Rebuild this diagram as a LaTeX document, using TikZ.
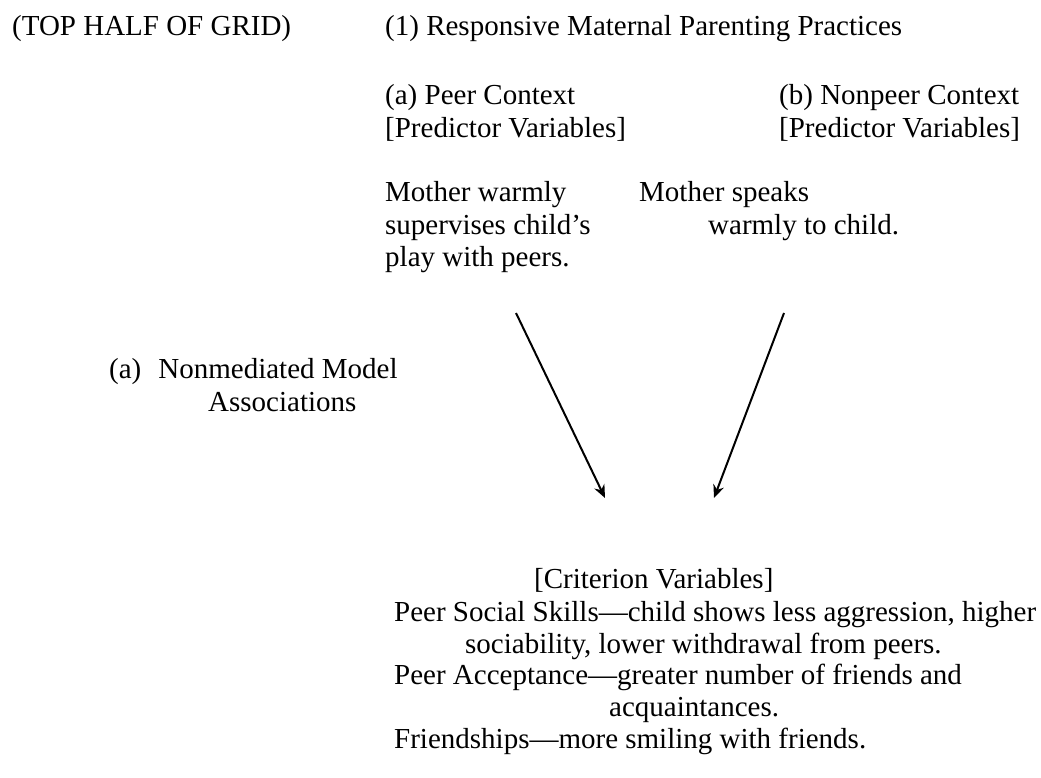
\documentclass[tikz,border=0pt]{standalone}
\usepackage{fontspec}
\setmainfont{Liberation Serif}
\usetikzlibrary{arrows.meta}
\begin{document}
\begin{tikzpicture}[x=1pt,y=-1pt,
  lbl/.style={anchor=base west,inner sep=0pt,font=\fontsize{29}{33}\selectfont},
  link/.style={line width=2pt,-{Stealth[length=13pt,width=11pt]}}]
\useasboundingbox (0,0) rectangle (1041,778);
% headings
\node[lbl] (grid) at (12,36) {(TOP HALF OF GRID)};
\node[lbl] (resp) at (385,36) {(1) Responsive Maternal Parenting Practices};
% peer context column
\node[lbl] (peerA) at (385,105) {(a) Peer Context};
\node[lbl] (peerB) at (385,138) {[Predictor Variables]};
\node[lbl] (peer1) at (385,202) {Mother warmly};
\node[lbl] (peer2) at (385,234) {supervises child's};
\node[lbl] (peer3) at (385,266) {play with peers.};
% nonpeer context column
\node[lbl] (npA) at (779,105) {(b) Nonpeer Context};
\node[lbl] (npB) at (779,138) {[Predictor Variables]};
\node[lbl] (np1) at (639,202) {Mother speaks};
\node[lbl] (np2) at (708,234) {warmly to child.};
% model label
\node[lbl] (model1) at (109,378) {(a)\hspace{17pt}Nonmediated Model};
\node[lbl] (model2) at (208,411) {Associations};
% criterion block
\node[lbl] (crit) at (534,588) {[Criterion Variables]};
\node[lbl] (c1) at (394,621) {Peer Social Skills—child shows less aggression, higher};
\node[lbl] (c2) at (465,653) {sociability, lower withdrawal from peers.};
\node[lbl] (c3) at (394,684) {Peer Acceptance—greater number of friends and};
\node[lbl] (c4) at (609,716) {acquaintances.};
\node[lbl] (c5) at (394,748) {Friendships—more smiling with friends.};
% arrows from the two predictor contexts down to the criterion variables
\coordinate (ls) at (516,313);
\coordinate (le) at (605,498);
\coordinate (rs) at (784,313);
\coordinate (re) at (714,498);
\draw[link] (ls) -- (le);
\draw[link] (rs) -- (re);
\end{tikzpicture}
\end{document}
